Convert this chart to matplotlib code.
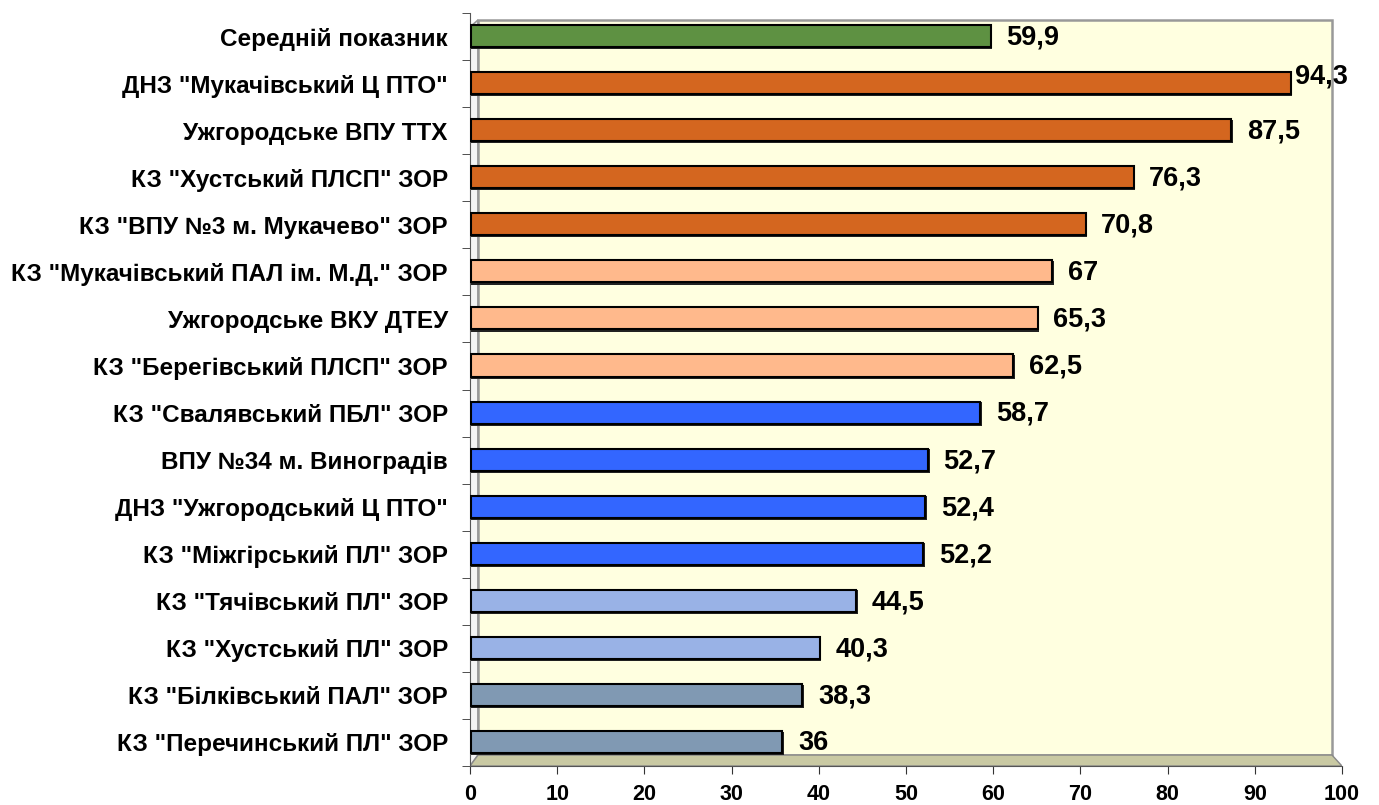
import matplotlib.pyplot as plt
from matplotlib.patches import Polygon, Rectangle

# data (top to bottom)
categories = [
    'Середній показник',
    'ДНЗ "Мукачівський Ц ПТО"',
    'Ужгородське ВПУ ТТХ',
    'КЗ "Хустський ПЛСП" ЗОР',
    'КЗ "ВПУ №3 м. Мукачево" ЗОР',
    'КЗ "Мукачівський ПАЛ ім. М.Д." ЗОР',
    'Ужгородське ВКУ ДТЕУ',
    'КЗ "Берегівський ПЛСП" ЗОР',
    'КЗ "Свалявський ПБЛ" ЗОР',
    'ВПУ №34 м. Виноградів',
    'ДНЗ "Ужгородський Ц ПТО"',
    'КЗ "Міжгірський ПЛ" ЗОР',
    'КЗ "Тячівський ПЛ" ЗОР',
    'КЗ "Хустський ПЛ" ЗОР',
    'КЗ "Білківський ПАЛ" ЗОР',
    'КЗ "Перечинський ПЛ" ЗОР',
]
values = [59.9, 94.3, 87.5, 76.3, 70.8, 67, 65.3, 62.5,
          58.7, 52.7, 52.4, 52.2, 44.5, 40.3, 38.3, 36]
groups = ['avg', 'high', 'high', 'high', 'high', 'mid', 'mid', 'mid',
          'blue', 'blue', 'blue', 'blue', 'light', 'light', 'grey', 'grey']
group_colors = {
    'avg': '#5E9142',
    'high': '#D4661F',
    'mid': '#FFB98C',
    'blue': '#3366FF',
    'light': '#99B2E6',
    'grey': '#8099B3',
}

plt.rcParams['font.family'] = ['Liberation Sans', 'DejaVu Sans']
plt.rcParams['font.weight'] = 'bold'

fig = plt.figure(figsize=(13.79, 8.05), dpi=100)
ax = fig.add_axes([470 / 1379, 1 - 766 / 805, 872 / 1379, 753 / 805])
ax.set_xlim(0, 100)
ax.set_ylim(15.5, -0.5)

# 3d-ish walls
def py(p):
    return -0.5 + (p - 13) / 47.06

ax.add_patch(Polygon([(0, py(766)), (0, py(27)), (0.92, py(20)), (0.92, py(755))],
                     closed=True, facecolor='#F4F4F4', edgecolor='#999999', lw=1.2, zorder=0))
ax.add_patch(Rectangle((0.92, py(755)), 98.85 - 0.92, py(20) - py(755),
                       facecolor='#FFFFE0', edgecolor='#999999', lw=1.8, zorder=0))
ax.add_patch(Polygon([(0, py(766)), (100, py(766)), (98.85, py(755)), (0.92, py(755))],
                     closed=True, facecolor='#C9C9A3', edgecolor='#888888', lw=1.0, zorder=0))

ypos = list(range(len(categories)))
colors = [group_colors[g] for g in groups]

# shadow for depth
ax.barh([y + 0.02 for y in ypos], values, height=0.5, left=0, color='#222222', zorder=2)
for y, v, c in zip(ypos, values, colors):
    ax.barh(y - 0.01, v - 0.3, height=0.47, left=0.1, color=c,
            edgecolor='black', linewidth=1.5, zorder=3)

for y, v in zip(ypos, values):
    label = f'{v:g}'.replace('.', ',')
    dy = -0.15 if v > 90 else 0.02
    ax.text(v + (0.3 if v > 90 else 1.6), y + dy, label, va='center', ha='left',
            fontsize=19.5, fontweight='bold', zorder=5)

ax.set_yticks(ypos)
ax.set_yticklabels(categories, fontsize=17.5, fontweight='bold')
ax.set_yticks([i - 0.5 for i in range(len(categories) + 1)], minor=True)
ax.tick_params(axis='y', which='major', length=0, pad=16)
ax.tick_params(axis='y', which='minor', length=6, color='#333333')

ax.set_xticks(range(0, 101, 10))
ax.tick_params(axis='x', length=6, color='#333333', labelsize=15.5, pad=7)
for t in ax.get_xticklabels():
    t.set_fontweight('bold')

for s in ['top', 'right']:
    ax.spines[s].set_visible(False)
ax.spines['left'].set_color('#555555')
ax.spines['bottom'].set_color('#555555')
ax.patch.set_visible(False)

fig.savefig('out.png', dpi=100)
